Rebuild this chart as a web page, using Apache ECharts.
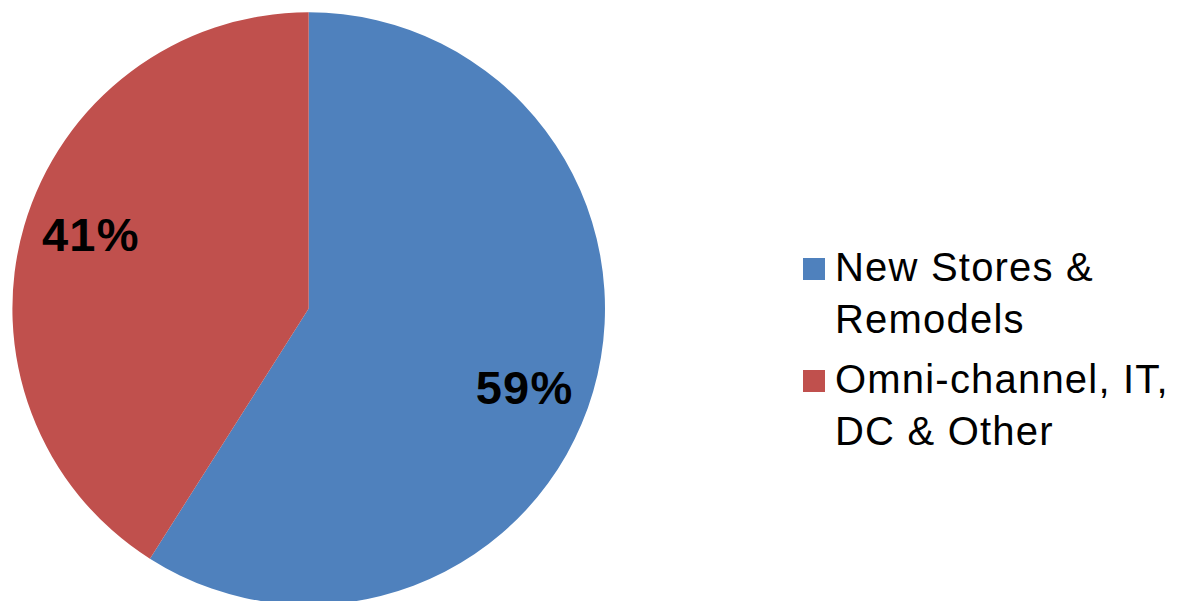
<!DOCTYPE html>
<html>
<head>
<meta charset="utf-8">
<script src="https://cdn.jsdelivr.net/npm/echarts@6/dist/echarts.min.js"></script>
<style>
html,body{margin:0;padding:0;background:#fff;}
#c{width:1178px;height:601px;}
#c svg text{letter-spacing:1.2px;}
</style>
</head>
<body>
<div id="c"></div>
<script>
const categories = ['New Stores &\nRemodels', 'Omni-channel, IT,\nDC & Other'];
const values = [59, 41];
const colors = ['#4F81BD', '#C0504D'];

const chart = echarts.init(document.getElementById('c'), null, {renderer: 'svg'});
const data = categories.map((n, i) => ({name: n, value: values[i], itemStyle: {color: colors[i]}}));
const labelOffsets = [[-8, 14], [6, -9]];
const labelData = categories.map((n, i) => ({name: n, value: values[i], label: {offset: labelOffsets[i]}}));
const FONT = '"Liberation Sans", Arial, sans-serif';
const legendText = {
  fontFamily: FONT, fontSize: 40, color: '#000', lineHeight: 52,
  rich: {
    a: {fontFamily: FONT, fontSize: 40, color: '#000', lineHeight: 52, padding: [0, 0, 0, 5]},
    b: {fontFamily: FONT, fontSize: 40, color: '#000', lineHeight: 48}
  }
};
const legendCenters = [269, 381];
chart.setOption({
  animation: false,
  legend: categories.map((n, i) => ({
    data: [{name: n, itemStyle: {color: colors[i]}}],
    left: 803, top: legendCenters[i] - 76,
    orient: 'vertical', itemWidth: 22, itemHeight: 22,
    icon: 'rect', selectedMode: false,
    formatter: name => '{b| }\n' + name.split('\n').map(s => '{a|' + s + '}').join('\n'),
    textStyle: legendText, padding: 0
  })),
  series: [
    {
      type: 'pie', center: [308.7, 308.6], radius: [0, 296.3],
      startAngle: 90, clockwise: true, silent: true,
      label: {show: false}, labelLine: {show: false},
      itemStyle: {borderWidth: 0},
      data: data
    },
    {
      type: 'pie', center: [308.7, 308.6], radius: [164, 296.3],
      startAngle: 90, clockwise: true, silent: true,
      itemStyle: {color: 'rgba(0,0,0,0)', borderWidth: 0},
      label: {
        show: true, position: 'inside', formatter: '{d}%',
        fontFamily: FONT, fontSize: 47, fontWeight: 'bold', color: '#000'
      },
      labelLine: {show: false},
      data: labelData
    }
  ]
});
</script>
</body>
</html>
